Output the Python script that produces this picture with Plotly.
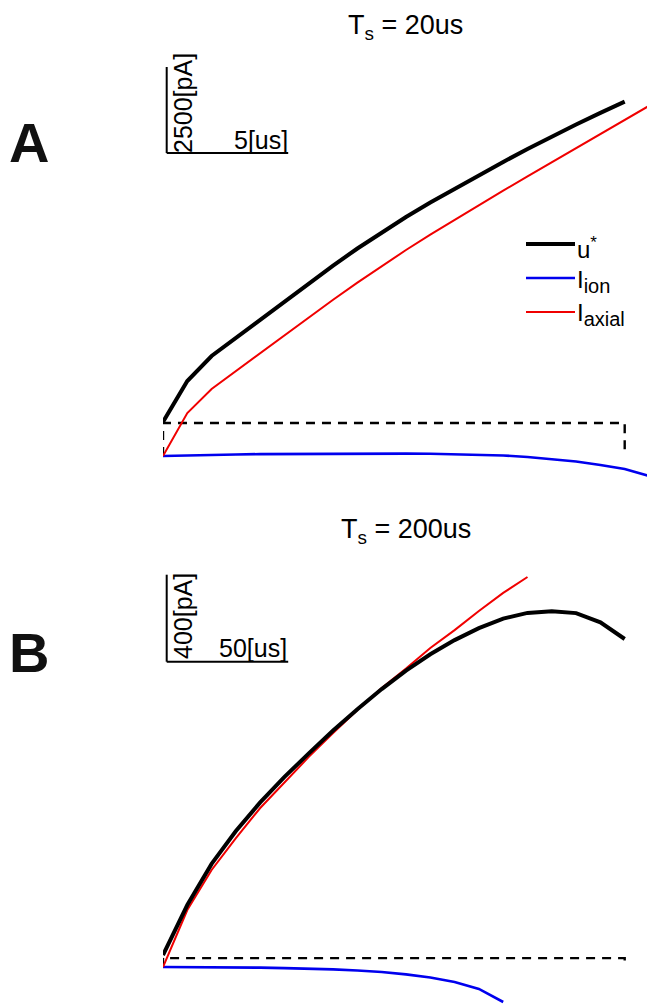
import plotly.graph_objects as go

# the page body has an 8px margin, so the figure is a bit smaller than the window
OFF = 8
W, H = 655 - OFF, 1008 - OFF

# ---------------- data ----------------
# panel A, Ts = 20us : one sample per us
t_a = list(range(0, 21))
u_star_a = [988, 2180, 2907, 3438, 3968, 4499, 5023, 5536, 6032, 6504,
            6948, 7368, 7770, 8164, 8549, 8923, 9285, 9635, 9974, 10301]
i_ion_a = [0, 20, 35, 45, 55, 60, 65, 70, 70, 70, 70,
           65, 55, 45, 15, -30, -90, -160, -260, -380, -580]
i_axial_a = [0, 1250, 1948, 2471, 2994, 3517, 4035, 4544, 5041, 5523, 5988,
             6436, 6869, 7294, 7712, 8128, 8541, 8953, 9363, 9773, 10180]
u0_a = 960

# panel B, Ts = 200us : one sample per 10us
t_b = list(range(0, 210, 10))
u_star_b = [55, 285, 474, 625, 757, 874, 982, 1087, 1185, 1278,
            1363, 1438, 1503, 1558, 1602, 1628, 1636, 1627, 1585, 1508]
i_ion_b = [0, 0, 0, -1, -3, -5, -7, -11, -16, -23, -34, -48, -69, -101, -161]
i_axial_b = [0, 262, 446, 593, 731, 851, 966, 1076, 1182, 1283, 1372,
             1467, 1549, 1637, 1720, 1793]
u0_b = 41

titles = ["T<sub>s</sub> = 20us", "T<sub>s</sub> = 200us"]
panel_letters = ["A", "B"]
scale_t = [5, 50]          # us
scale_i = [2500, 400]      # pA
names = ["u<sup>*</sup>", "I<sub>ion</sub>", "I<sub>axial</sub>"]
legend_text = ["u<sup><span style='font-size:17px'>*</span></sup>",
               "I<sub><span style='font-size:20px'>ion</span></sub>",
               "I<sub><span style='font-size:20px'>axial</span></sub>"]

FONT = "Liberation Sans, Arial, sans-serif"
colors = ["#000000", "#0000ee", "#f00000"]
widths = [4, 2.6, 2]

# pixel geometry of the two panels (window pixels)
x_left, x_right = 163, 650
px_per_us = [24.3, 2.43]
zero_px = [456, 967]
px_per_pA = [0.0344, 0.2175]
dom_px = [(60, 490), (572, 1005)]


def pxx(p):
    return (p - OFF) / W


def pxy(p):
    return 1 - (p - OFF) / H


fig = go.Figure()

panels = [
    (t_a, u_star_a, i_ion_a, i_axial_a, u0_a),
    (t_b, u_star_b, i_ion_b, i_axial_b, u0_b),
]

for n, (t, u, ion, axial, u0) in enumerate(panels):
    xa = "x" if n == 0 else "x2"
    ya = "y" if n == 0 else "y2"
    t_end = t[len(u) - 1]
    fig.add_trace(go.Scatter(x=[t[0], t[0], t_end, t_end], y=[0, u0, u0, 0],
                             mode="lines", line=dict(color="black", width=2.4, dash="9px,7px"),
                             xaxis=xa, yaxis=ya, showlegend=False, hoverinfo="skip"))
    for vals, c, w, nm in [(ion, colors[1], widths[1], names[1]),
                           (axial, colors[2], widths[2], names[2]),
                           (u, colors[0], widths[0], names[0])]:
        fig.add_trace(go.Scatter(x=t[:len(vals)], y=vals, mode="lines", name=nm,
                                 line=dict(color=c, width=w),
                                 xaxis=xa, yaxis=ya, showlegend=False, hoverinfo="skip"))

    # axes ranges from the pixel scale
    top, bot = dom_px[n]
    xr = [0, (x_right - x_left) / px_per_us[n]]
    yr = [(zero_px[n] - bot) / px_per_pA[n], (zero_px[n] - top) / px_per_pA[n]]
    ax = dict(visible=False, showgrid=False, zeroline=False, fixedrange=True)
    fig.layout["xaxis" if n == 0 else "xaxis2"] = dict(
        ax, domain=[pxx(x_left), pxx(x_right)], range=xr, anchor=ya)
    fig.layout["yaxis" if n == 0 else "yaxis2"] = dict(
        ax, domain=[pxy(bot), pxy(top)], range=yr, anchor=xa)

    # scale bars
    sx0 = 3.7 / px_per_us[n]
    base_px = [153, 661.7][n]
    sy0 = (zero_px[n] - base_px) / px_per_pA[n]
    fig.add_shape(type="line", xref=xa, yref=ya, x0=sx0, x1=sx0 + scale_t[n],
                  y0=sy0, y1=sy0, line=dict(color="black", width=2))
    fig.add_shape(type="line", xref=xa, yref=ya, x0=sx0, x1=sx0,
                  y0=sy0, y1=sy0 + scale_i[n], line=dict(color="black", width=2))

# ---------------- text ----------------
ann = []
title_y = [27, 531]
for n in range(2):
    ann.append(dict(text=titles[n], x=pxx(406), y=pxy(title_y[n]), xref="paper", yref="paper",
                    showarrow=False, xanchor="center", yanchor="middle",
                    font=dict(size=27, color="black", family=FONT)))
letter_y = [142.5, 652]
for n in range(2):
    ann.append(dict(text="<b>" + panel_letters[n] + "</b>", x=0, y=pxy(letter_y[n]),
                    xref="paper", yref="paper", showarrow=False, xanchor="left",
                    yanchor="middle", borderpad=0,
                    font=dict(size=56, color="#111111", family=FONT)))

ilab = [(183, 103), (183, 616)]
tlab = [(260.5, 140), (253, 648)]
for n in range(2):
    ann.append(dict(text="%d[pA]" % scale_i[n], x=pxx(ilab[n][0]), y=pxy(ilab[n][1]),
                    xref="paper", yref="paper", showarrow=False, textangle=-90,
                    xanchor="center", yanchor="middle",
                    font=dict(size=25, color="black", family=FONT)))
    ann.append(dict(text="%d[us]" % scale_t[n], x=pxx(tlab[n][0]), y=pxy(tlab[n][1]),
                    xref="paper", yref="paper", showarrow=False,
                    xanchor="center", yanchor="middle",
                    font=dict(size=25, color="black", family=FONT)))

# legend drawn by hand (panel A)
leg_y = [244, 278, 312]
leg_txt_dy = [4, 3, 3]
for k in range(3):
    fig.add_shape(type="line", xref="paper", yref="paper", x0=pxx(526), x1=pxx(575),
                  y0=pxy(leg_y[k]), y1=pxy(leg_y[k]),
                  line=dict(color=colors[k], width=widths[k]))
    ann.append(dict(text=legend_text[k], x=pxx(575), y=pxy(leg_y[k] + leg_txt_dy[k]),
                    xref="paper", yref="paper",
                    showarrow=False, xanchor="left", yanchor="middle",
                    font=dict(size=24, color="black", family=FONT)))

fig.update_layout(
    width=W, height=H,
    margin=dict(l=0, r=0, t=0, b=0),
    paper_bgcolor="white", plot_bgcolor="white",
    annotations=ann,
    showlegend=False,
)

fig.write_html("out.html")
